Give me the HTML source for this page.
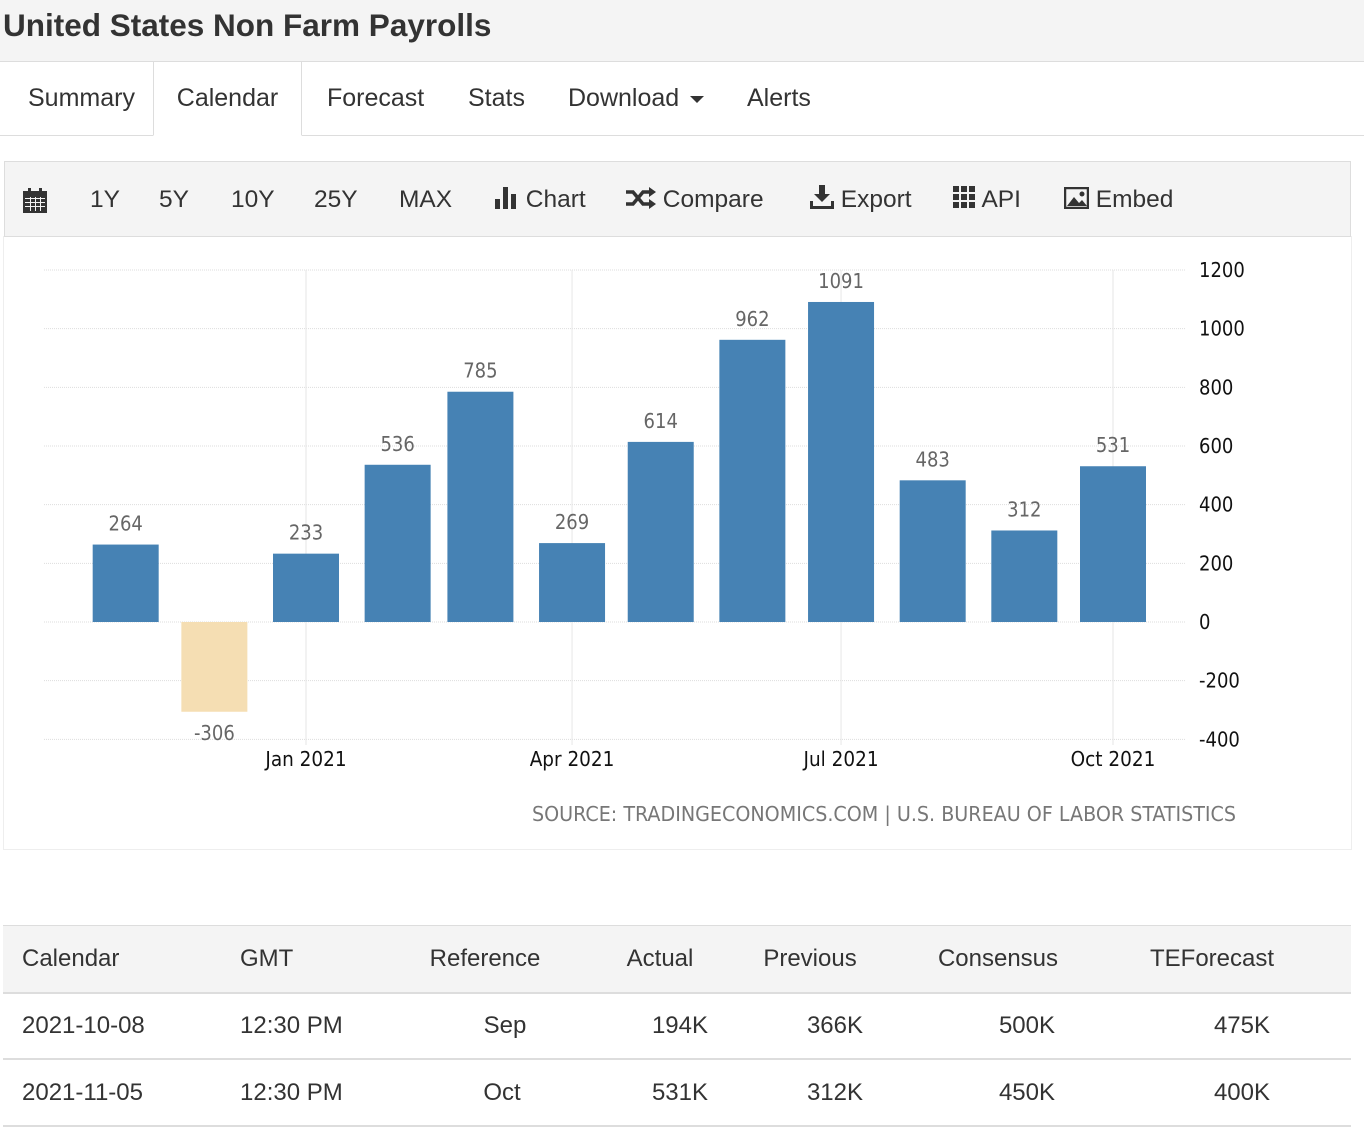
<!DOCTYPE html>
<html><head><meta charset="utf-8">
<style>
body{margin:0;width:1364px;height:1129px;background:#fff;font-family:"Liberation Sans",Arial,sans-serif;color:#333;position:relative;overflow:hidden}
.title{position:absolute;left:0;top:0;width:1364px;height:61px;background:#f4f4f4;border-bottom:1px solid #ddd}
.title h1{margin:0;position:absolute;left:3px;top:7px;font-size:31.5px;font-weight:bold;color:#333}
.tabs{position:absolute;top:62px;left:0;width:1364px;height:73px;border-bottom:1px solid #ddd}
.tab{position:absolute;top:0;height:73px;line-height:73px;font-size:25px;color:#333}
.tab.active{border:1px solid #ddd;border-bottom:1px solid #fff;background:#fff;height:73px;top:-1px}
.toolbar{position:absolute;left:4px;top:161px;width:1345px;height:74px;background:#f4f4f4;border:1px solid #ddd}
.tb{position:absolute;top:0;line-height:76px;font-size:24.5px;color:#333}
.chartbox{position:absolute;left:3px;top:236px;width:1347px;height:613px;border:1px solid #eee;border-top:none}
.row{position:absolute;left:3px;width:1348px;font-size:24px;color:#333}
.row div{position:absolute;top:0;line-height:66px;white-space:nowrap}
.c{transform:translateX(-50%)}
.r{transform:translateX(-100%)}
</style></head><body>
<div class="title"><h1>United States Non Farm Payrolls</h1></div>
<div class="tabs">
<div class="tab" style="left:28px">Summary</div>
<div class="tab active" style="left:153px;width:147px;text-align:center">Calendar</div>
<div class="tab" style="left:327px">Forecast</div>
<div class="tab" style="left:468px">Stats</div>
<div class="tab" style="left:568px">Download <span style="display:inline-block;border-left:7px solid transparent;border-right:7px solid transparent;border-top:7px solid #333;vertical-align:middle;margin-left:4px"></span></div>
<div class="tab" style="left:747px">Alerts</div>
</div>
<div class="toolbar">
<div class="tb" style="left:18px"><svg width="24" height="26" viewBox="0 0 24 26" style="vertical-align:middle"><rect x="0" y="3" width="24" height="22" fill="#333"/><rect x="5" y="0" width="3" height="5" fill="#333"/><rect x="16" y="0" width="3" height="5" fill="#333"/><g fill="#f4f4f4"><rect x="2" y="10" width="20" height="1"/><rect x="2" y="14" width="20" height="1"/><rect x="2" y="18" width="20" height="1"/><rect x="7" y="9" width="1" height="14"/><rect x="12" y="9" width="1" height="14"/><rect x="17" y="9" width="1" height="14"/></g></svg></div>
<div class="tb" style="left:85px">1Y</div>
<div class="tb" style="left:154px">5Y</div>
<div class="tb" style="left:226px">10Y</div>
<div class="tb" style="left:309px">25Y</div>
<div class="tb" style="left:394px">MAX</div>
<div class="tb" style="left:490px"><svg width="24" height="22" style="vertical-align:-2px"><rect x="0" y="12" width="5" height="10" fill="#333"/><rect x="8" y="0" width="5" height="22" fill="#333"/><rect x="16" y="7" width="5" height="15" fill="#333"/></svg> Chart</div>
<div class="tb" style="left:621px"><svg width="30" height="22" style="vertical-align:-2px"><g fill="none" stroke="#333" stroke-width="3.5"><path d="M0 5h7l10 12h7"/><path d="M0 17h7l10-12h7"/></g><path d="M23 0l7 5-7 5z M23 12l7 5-7 5z" fill="#333"/></svg> Compare</div>
<div class="tb" style="left:805px"><svg width="24" height="24" style="vertical-align:-2px"><path d="M9 0h6v9h5l-8 8-8-8h5z M0 16h3v5h18v-5h3v8H0z" fill="#333"/></svg> Export</div>
<div class="tb" style="left:948px"><svg width="23" height="23" style="vertical-align:-2px"><g fill="#333"><rect x="0" y="0" width="6" height="6"/><rect x="8" y="0" width="6" height="6"/><rect x="16" y="0" width="6" height="6"/><rect x="0" y="8" width="6" height="6"/><rect x="8" y="8" width="6" height="6"/><rect x="16" y="8" width="6" height="6"/><rect x="0" y="16" width="6" height="6"/><rect x="8" y="16" width="6" height="6"/><rect x="16" y="16" width="6" height="6"/></g></svg> API</div>
<div class="tb" style="left:1059px"><svg width="25" height="22" style="vertical-align:-2px"><rect x="1" y="1" width="23" height="20" fill="none" stroke="#333" stroke-width="2.5"/><path d="M3 19l7-9 5 6 3-3 5 6z" fill="#333"/><circle cx="18" cy="7" r="2.5" fill="#333"/></svg> Embed</div>
</div>
<div class="chartbox"></div>
<svg id="chart" width="1364" height="860" style="position:absolute;left:0;top:0"></svg>
<div>
<div class="row" style="top:925px;height:66px;background:#f4f4f4;border-top:1px solid #ddd;border-bottom:2px solid #ddd">
<div style="left:19px">Calendar</div><div style="left:237px">GMT</div><div class="c" style="left:482px">Reference</div><div class="c" style="left:657px">Actual</div><div class="c" style="left:807px">Previous</div><div class="c" style="left:995px">Consensus</div><div class="c" style="left:1209px">TEForecast</div></div>
<div class="row" style="top:993px;height:65px;border-bottom:2px solid #ddd">
<div style="left:19px">2021-10-08</div><div style="left:237px">12:30 PM</div><div class="c" style="left:502px">Sep</div><div class="r" style="left:705px">194K</div><div class="r" style="left:860px">366K</div><div class="r" style="left:1052px">500K</div><div class="r" style="left:1267px">475K</div></div>
<div class="row" style="top:1060px;height:65px;border-bottom:2px solid #ddd">
<div style="left:19px">2021-11-05</div><div style="left:237px">12:30 PM</div><div class="c" style="left:499px">Oct</div><div class="r" style="left:705px">531K</div><div class="r" style="left:860px">312K</div><div class="r" style="left:1052px">450K</div><div class="r" style="left:1267px">400K</div></div>
</div>
<script>
const categories=["2020-11-01","2020-12-01","2021-01-01","2021-02-01","2021-03-01","2021-04-01","2021-05-01","2021-06-01","2021-07-01","2021-08-01","2021-09-01","2021-10-01"];
const values=[264,-306,233,536,785,269,614,962,1091,483,312,531];
const yTicks=[1200,1000,800,600,400,200,0,-200,-400];
const xTickDates=["2021-01-01","2021-04-01","2021-07-01","2021-10-01"];
const xTickLabels=["Jan 2021","Apr 2021","Jul 2021","Oct 2021"];
const svg=document.getElementById('chart');const NS='http://www.w3.org/2000/svg';
const t0=Date.UTC(2021,0,1);
const F='DejaVu Sans Condensed,Liberation Sans,sans-serif';
function x(d){const p=d.split('-');return 306+(Date.UTC(+p[0],p[1]-1,+p[2])-t0)/86400000*(807/273);}
function y(v){return 622-v*(352/1200);}
function mk(tag,attrs){const e=document.createElementNS(NS,tag);for(const k in attrs)e.setAttribute(k,attrs[k]);svg.appendChild(e);return e;}
yTicks.forEach(v=>{
 const l=mk('line',{x1:44,x2:1185,y1:y(v),y2:y(v),stroke:'#ddd','stroke-dasharray':'1,1'});
 
 
 const t=mk('text',{x:1199,y:y(v)+7,'font-size':20,fill:'#111','font-family':F});t.textContent=v;
 
 
});
xTickDates.forEach((d,i)=>{
 const l=mk('line',{x1:x(d),x2:x(d),y1:270,y2:745,stroke:'#e6e6e6'});
 
 
 const t=mk('text',{x:x(d),y:766,'font-size':20.5,fill:'#111','text-anchor':'middle','font-family':F});t.textContent=xTickLabels[i];
 
 
});
categories.forEach((d,i)=>{
 const v=values[i],cx=x(d),w=66;
 const r=mk('rect',{x:cx-w/2,width:w,y:Math.min(y(v),y(0)),height:Math.abs(y(v)-y(0)),fill:v<0?'#f5deb3':'#4682b4'});
 
 
 const t=mk('text',{x:cx,y:v<0?y(v)+28:y(v)-14,'font-size':20,fill:'#666','text-anchor':'middle','font-family':F});t.textContent=v;
 
 
});
const s=mk('text',{x:1236,y:821,'font-size':20,fill:'#777','text-anchor':'end','font-family':F,textLength:704,lengthAdjust:'spacingAndGlyphs'});
s.textContent='SOURCE: TRADINGECONOMICS.COM | U.S. BUREAU OF LABOR STATISTICS';


</script>
</body></html>
